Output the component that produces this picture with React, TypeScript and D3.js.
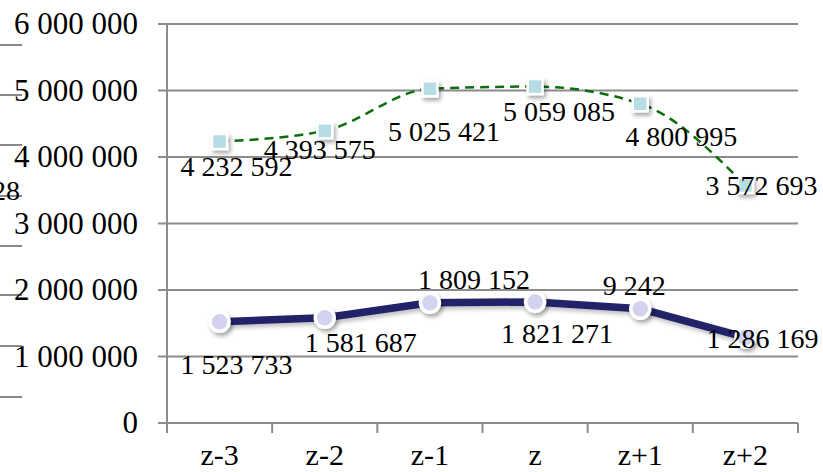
import React from "react";
import * as d3 from "d3";

const categories = ["z-3", "z-2", "z-1", "z", "z+1", "z+2"];
const upperValues = [4232592, 4393575, 5025421, 5059085, 4800995, 3572693];
const lowerValues = [1523733, 1581687, 1809152, 1821271, 1719242, 1286169];
const upperLabels = ["4 232 592", "4 393 575", "5 025 421", "5 059 085", "4 800 995", "3 572 693"];
const lowerLabels = ["1 523 733", "1 581 687", "1 809 152", "1 821 271", "9 242", "1 286 169"];
const yTicks = [0, 1000000, 2000000, 3000000, 4000000, 5000000, 6000000];
const leftStubLines = [45, 95, 145, 196, 246, 295, 346, 397];

// label offsets (dx from point to label centre, dy from point to baseline)
const upperOffsets: [number, number][] = [[17, 34], [-5, 28], [14, 52], [24, 34], [41, 42], [16, 10]];
const lowerOffsets: [number, number][] = [[17, 52], [36, 34], [44, -14], [22, 41], [-6, -14], [17, 11]];

const W = 823, H = 472;
const left = 167, right = 798, top = 24, bottom = 423;

export default function App() {
  const x = d3.scaleBand<string>().domain(categories).range([left, right]);
  const cx = (c: string) => (x(c) ?? 0) + x.bandwidth() / 2;
  const y = d3.scaleLinear().domain([0, 6000000]).range([bottom, top]);
  const fmt = (v: number) => d3.format(",")(v).replace(/,/g, " ");

  const upperLine = d3.line<number>()
    .x((_, i) => cx(categories[i]))
    .y((v) => y(v))
    .curve(d3.curveMonotoneX);
  const lowerLine = d3.line<number>()
    .x((_, i) => cx(categories[i]))
    .y((v) => y(v));

  const font = "'Liberation Serif', 'Times New Roman', serif";

  return (
    <svg width={W} height={H} style={{ position: "absolute", left: 0, top: 0, background: "#fff" }}
      fontFamily={font}>
      <defs>
        <filter id="sh" x="-50%" y="-50%" width="200%" height="200%">
          <feDropShadow dx="2" dy="3" stdDeviation="2" floodColor="#000" floodOpacity="0.35" />
        </filter>
        <filter id="lsh" x="-10%" y="-20%" width="120%" height="140%">
          <feDropShadow dx="2" dy="3" stdDeviation="2" floodColor="#000" floodOpacity="0.25" />
        </filter>
      </defs>
      <rect width={W} height={H} fill="#fff" />
      {/* background artifacts at left */}
      {leftStubLines.map((yy) => (
        <line key={yy} x1={0} x2={22} y1={yy} y2={yy} stroke="#888" strokeWidth={2} />
      ))}
      <text x={20} y={200} fontSize={28} textAnchor="end" fill="#000">28</text>

      {/* gridlines */}
      {yTicks.map((t) => (
        <line key={t} x1={left - 9} x2={right} y1={y(t)} y2={y(t)}
          stroke="#8c8c8c" strokeWidth={2} />
      ))}
      {/* y axis */}
      <line x1={left} x2={left} y1={top} y2={bottom} stroke="#8c8c8c" strokeWidth={2} />
      {yTicks.map((t) => (
        <text key={"l" + t} x={138} y={y(t)} dy="0.33em" textAnchor="end" fontSize={31} fill="#000">
          {fmt(t)}
        </text>
      ))}
      {/* x ticks */}
      {[...categories.map((c) => x(c) ?? 0), right].map((xx, i) => (
        <line key={"xt" + i} x1={xx} x2={xx} y1={bottom} y2={bottom + 10} stroke="#8c8c8c" strokeWidth={2} />
      ))}
      {categories.map((c) => (
        <text key={"xl" + c} x={cx(c)} y={465} textAnchor="middle" fontSize={30} fill="#000">{c}</text>
      ))}

      {/* upper series */}
      <path d={upperLine(upperValues) ?? ""} fill="none" stroke="#0b6e0b" strokeWidth={2.5}
        strokeDasharray="9 6" />
      {upperValues.map((v, i) => (
        <rect key={"us" + i} x={cx(categories[i]) - 7.5} y={y(v) - 7.5} width={15} height={15}
          fill="#b6dde3" stroke="#fff" strokeWidth={2.5} filter="url(#sh)" />
      ))}

      {/* lower series */}
      <path d={lowerLine(lowerValues) ?? ""} fill="none" stroke="#202068" strokeWidth={7.5}
        strokeLinejoin="round" filter="url(#lsh)" />
      {lowerValues.map((v, i) => (
        <circle key={"lc" + i} cx={cx(categories[i])} cy={y(v)} r={9.5}
          fill="#d3d3f0" stroke="#fff" strokeWidth={3.5} filter="url(#sh)" />
      ))}

      {/* data labels */}
      {upperValues.map((v, i) => (
        <text key={"ut" + i} x={cx(categories[i]) + upperOffsets[i][0]} y={y(v) + upperOffsets[i][1]}
          textAnchor="middle" fontSize={28} fill="#000">{upperLabels[i]}</text>
      ))}
      {lowerValues.map((v, i) => (
        <text key={"lt" + i} x={cx(categories[i]) + lowerOffsets[i][0]} y={y(v) + lowerOffsets[i][1]}
          textAnchor="middle" fontSize={28} fill="#000">{lowerLabels[i]}</text>
      ))}
    </svg>
  );
}
